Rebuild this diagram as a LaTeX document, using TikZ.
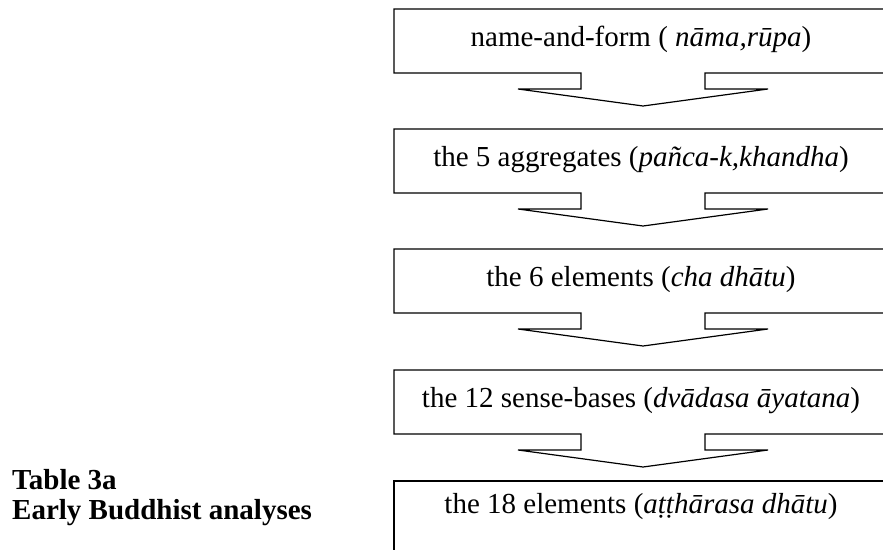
\documentclass[tikz,border=0pt]{standalone}
\usepackage{fontspec}
\setmainfont{Liberation Serif}
\begin{document}
\begin{tikzpicture}[x=1pt,y=-1pt,
  boxline/.style={draw=black,line width=1.2pt,line join=miter},
  boxtext/.style={anchor=base,inner sep=0pt,font=\fontsize{29}{34}\selectfont},
  titletext/.style={anchor=base west,inner sep=0pt,font=\fontsize{29}{34}\selectfont\bfseries}]
\clip (0,0) rectangle (883,549);
\newcommand\arrowbox[3]{%
  \draw[boxline] (394,#1) -- (892,#1) -- (892,#1+64) -- (705,#1+64) -- (705,#1+80)
     -- (768,#1+80) -- (643,#1+97) -- (518,#1+80) -- (581,#1+80) -- (581,#1+64)
     -- (394,#1+64) -- cycle;
  \node[boxtext] (#2) at (641,#1+37.5) {#3};
}
\arrowbox{9}{nama}{name-and-form ( \textit{nāma,rūpa})}
\arrowbox{129}{khandha}{the 5 aggregates (\textit{pañca-k,khandha})}
\arrowbox{249}{cha}{the 6 elements (\textit{cha dhātu})}
\arrowbox{370}{ayatana}{the 12 sense-bases (\textit{dvādasa āyatana})}
\draw[boxline] (394,570) -- (394,481) -- (900,481);
\node[boxtext] (dhatu) at (641,513) {the 18 elements (\textit{aṭṭhārasa dhātu})};
\node[titletext] (title1) at (12,489) {Table 3a};
\node[titletext] (title2) at (12,519) {Early Buddhist analyses};
\end{tikzpicture}
\end{document}
